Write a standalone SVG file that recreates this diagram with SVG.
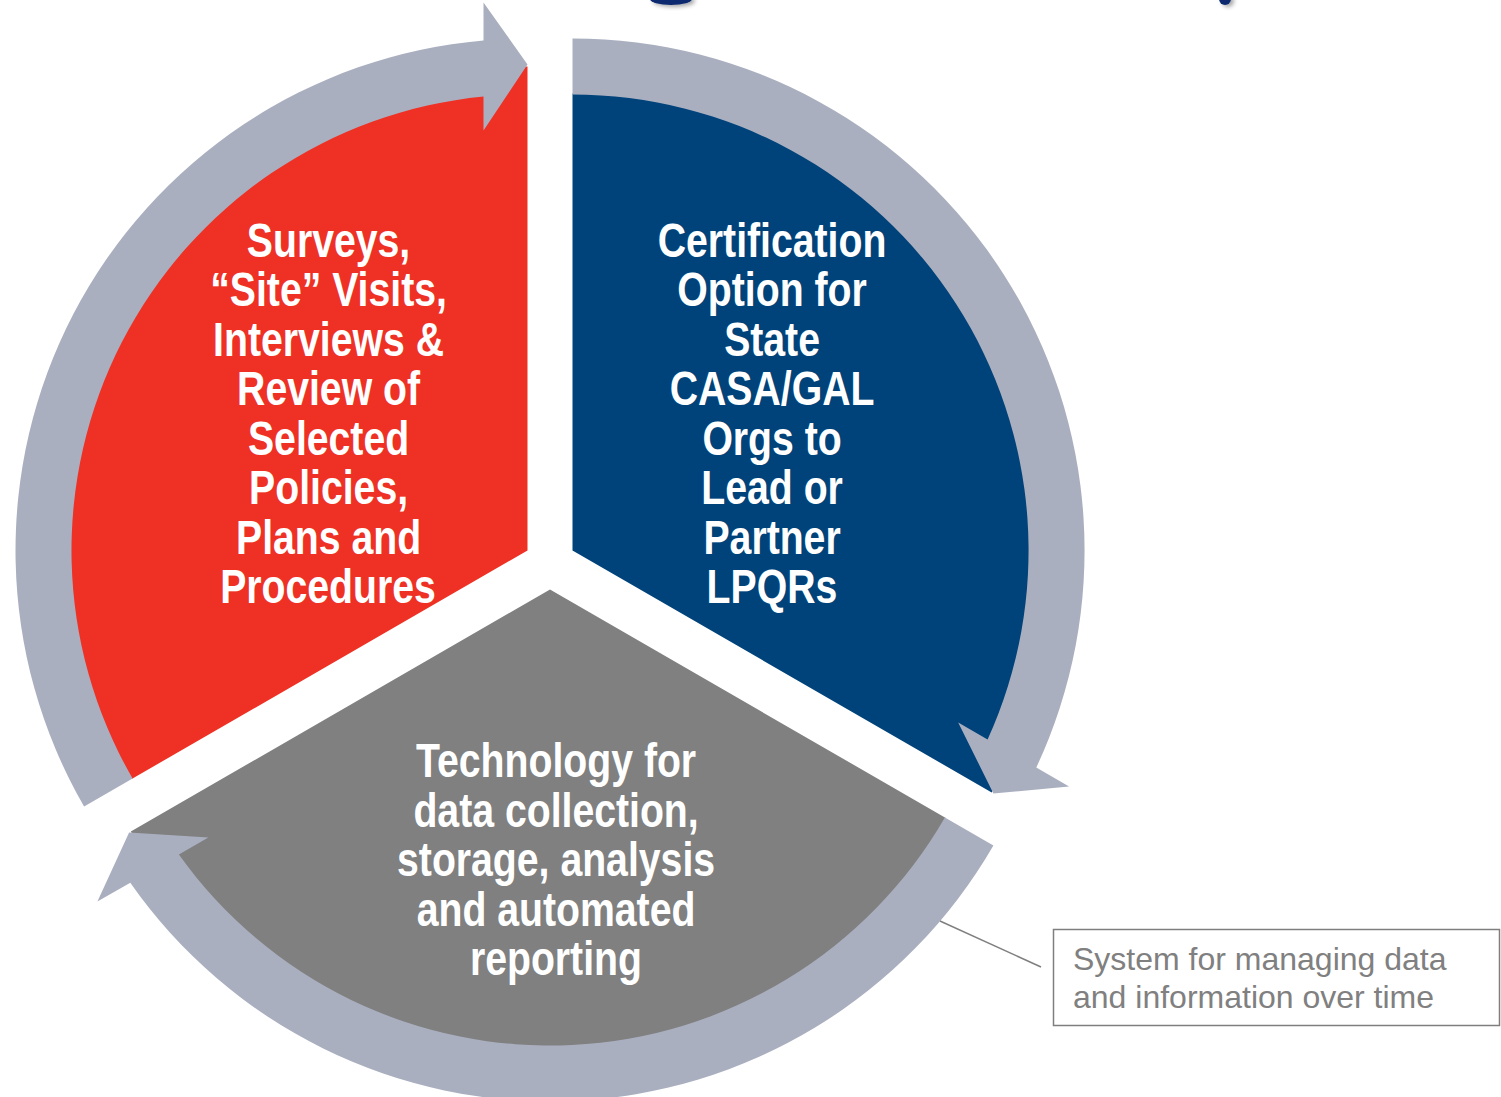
<svg xmlns="http://www.w3.org/2000/svg" width="1501" height="1097" viewBox="0 0 1501 1097">
  <defs>
    <style>
      .ring { fill: #AAAFC0; }
      .wedge-red { fill: #EE3124; }
      .wedge-blue { fill: #00437A; }
      .wedge-gray { fill: #808080; }
      .label { font-family: "Liberation Sans", Arial, sans-serif; font-weight: bold; font-size: 49px; fill: #FFFFFF; text-anchor: middle; }
      .note { font-family: "Liberation Sans", Arial, sans-serif; font-size: 32px; fill: #808080; }
      .frag { fill: #0E2C70; }
    </style>
    <filter id="shadow" x="-50%" y="-50%" width="200%" height="200%">
      <feDropShadow dx="3" dy="2" stdDeviation="2" flood-color="#000000" flood-opacity="0.35"/>
    </filter>
  </defs>
  <rect width="1501" height="1097" fill="#FFFFFF"/>

  <!-- cut-off fragments of a title above the picture -->
  <g id="title-fragments" filter="url(#shadow)">
    <ellipse class="frag" cx="671" cy="-1" rx="21" ry="6"/>
    <ellipse class="frag" cx="1225" cy="-1" rx="6" ry="6"/>
  </g>

  <g id="node-red">
    <path class="wedge-red" d="M527.5,550.5 L131.7,779 A457,457 0 0 1 448.1,100.5 L443.5,73.9 A484,484 0 0 1 527.5,66.5 Z"/>
    <text class="label" transform="translate(334 0) scale(0.8 1)">
      <tspan x="0" y="257">Surveys,</tspan>
      <tspan x="0" y="306">“Site” Visits,</tspan>
      <tspan x="0" y="356">Interviews &amp;</tspan>
      <tspan x="0" y="405">Review of</tspan>
      <tspan x="0" y="455">Selected</tspan>
      <tspan x="0" y="504">Policies,</tspan>
      <tspan x="0" y="554">Plans and</tspan>
      <tspan x="-7.5" y="603">Procedures</tspan>
    </text>
  </g>

  <g id="node-blue">
    <path class="wedge-blue" d="M572.5,550.5 L572.5,93.5 A457,457 0 0 1 1001.9,706.8 L1027.3,716 A484,484 0 0 1 991.7,792.5 Z"/>
    <text class="label" transform="translate(777.5 0) scale(0.8 1)">
      <tspan x="0" y="257">Certification</tspan>
      <tspan x="0" y="306">Option for</tspan>
      <tspan x="0" y="356">State</tspan>
      <tspan x="0" y="405">CASA/GAL</tspan>
      <tspan x="0" y="455">Orgs to</tspan>
      <tspan x="0" y="504">Lead or</tspan>
      <tspan x="0" y="554">Partner</tspan>
      <tspan x="-7" y="603">LPQRs</tspan>
    </text>
  </g>

  <g id="node-gray">
    <path class="wedge-gray" d="M550,589.5 L945.8,818 A457,457 0 0 1 199.9,883.3 L179.2,900.6 A484,484 0 0 1 130.8,831.5 Z"/>
    <text class="label" transform="translate(561.5 0) scale(0.8 1)">
      <tspan x="0" y="777">Technology for</tspan>
      <tspan x="0" y="827">data collection,</tspan>
      <tspan x="0" y="876">storage, analysis</tspan>
      <tspan x="0" y="926">and automated</tspan>
      <tspan x="-7" y="975">reporting</tspan>
    </text>
  </g>

  <g id="connectors">
    <!-- red -> blue circular arrow -->
    <path class="ring" d="M84.1,806.5 A512,512 0 0 1 483.5,40.4 L483.5,2.5 L527.5,64.5 L483.5,130.5 L483.5,96.6 A456,456 0 0 0 132.6,778.5 Z"/>
    <!-- blue -> gray circular arrow -->
    <path class="ring" d="M572.5,38.5 A512,512 0 0 1 1036.3,767.5 L1069.1,786.4 L993.4,793.5 L958.2,722.4 L987.6,739.4 A456,456 0 0 0 572.5,94.5 Z"/>
    <!-- gray -> red circular arrow -->
    <path class="ring" d="M993.4,845.5 A512,512 0 0 1 130.3,882.7 L97.4,901.6 L129.1,832.5 L208.3,837.6 L178.9,854.6 A456,456 0 0 0 944.9,817.5 Z"/>
    <!-- callout leader -->
    <line x1="940" y1="921" x2="1041" y2="967" stroke="#7F7F7F" stroke-width="1.5"/>
  </g>

  <g id="node-note">
    <rect x="1053.5" y="929.5" width="446" height="96" fill="#FFFFFF" stroke="#7F7F7F" stroke-width="1.5"/>
    <text class="note">
      <tspan x="1073" y="970">System for managing data</tspan>
      <tspan x="1073" y="1008">and information over time</tspan>
    </text>
  </g>
</svg>
